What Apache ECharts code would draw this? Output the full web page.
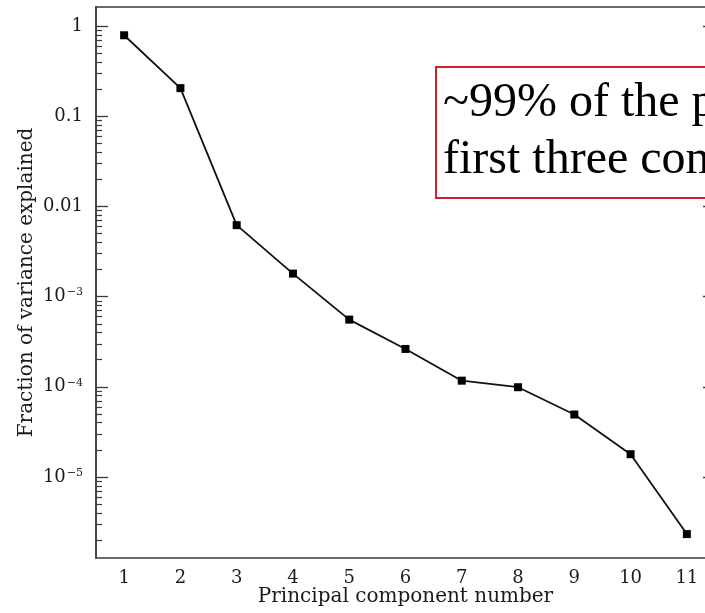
<!DOCTYPE html>
<html>
<head>
<meta charset="utf-8">
<script src="https://cdn.jsdelivr.net/npm/echarts@6/dist/echarts.min.js"></script>
<style>html,body{margin:0;padding:0;background:#fff}#c{width:705px;height:613px}</style>
</head>
<body>
<div id="c"></div>
<script>
// ---- data ----
const components = ['1','2','3','4','5','6','7','8','9','10','11'];
const fractionExplained = [0.79, 0.205, 0.0062, 0.0018, 0.000556, 0.000263, 0.000117, 0.000099, 0.0000493, 0.0000179, 0.00000233];
const yTickValues = [1, 0.1, 0.01, 1e-3, 1e-4, 1e-5];
const yTickLabels = ['1', '0.1', '0.01', '10^−3', '10^−4', '10^−5'];
const yRange = [1.265e-6, 1.626];
const xTitle = 'Principal component number';
const yTitle = 'Fraction of variance explained';
const noteLines = ['~99% of the power is in the', 'first three components'];

// ---- build ----
const lg = v => Math.log10(v);
const majorLog = yTickValues.map(lg);
const minorLog = [];
for (let e = -7; e <= 0; e++) {
  for (let k = 2; k <= 9; k++) {
    const v = lg(k * Math.pow(10, e));
    if (v > lg(yRange[0]) && v < lg(yRange[1])) minorLog.push(v);
  }
}
function labelFor(value) {
  for (let i = 0; i < majorLog.length; i++) {
    if (Math.abs(majorLog[i] - value) < 1e-6) {
      const parts = yTickLabels[i].split('^');
      return parts.length > 1 ? parts[0] + '{sup|' + parts[1] + '}' : parts[0];
    }
  }
  return '';
}
const serif = 'DejaVu Serif';
const axisCol = '#3a3a3a';
const txtCol = '#1a1a1a';
const baseY = {
  type: 'value', min: lg(yRange[0]), max: lg(yRange[1]),
  splitLine: {show: false}, axisLabel: {show: false},
  axisLine: {show: true, onZero: false, lineStyle: {color: axisCol, width: 1.5}}
};

const chart = echarts.init(document.getElementById('c'), null, {renderer: 'canvas'});
chart.setOption({
  animation: false,
  backgroundColor: '#fff',
  grid: {left: 96, width: 619, top: 7, bottom: 55, containLabel: false, outerBoundsMode: 'none'},
  xAxis: [
    {
      type: 'category', data: components, boundaryGap: true, position: 'bottom',
      axisLine: {onZero: false, lineStyle: {color: axisCol, width: 1.5}},
      axisTick: {alignWithLabel: true, inside: true, length: 12, lineStyle: {color: axisCol, width: 1.3}},
      axisLabel: {fontFamily: serif, fontSize: 18, color: txtCol, margin: 11},
      name: xTitle, nameLocation: 'middle', nameGap: 29, nameMoveOverlap: false,
      nameTextStyle: {fontFamily: serif, fontSize: 20, color: txtCol},
      splitLine: {show: false}
    },
    {
      type: 'category', data: components, boundaryGap: true, position: 'top',
      axisLine: {onZero: false, lineStyle: {color: axisCol, width: 1.5}},
      axisTick: {alignWithLabel: true, inside: true, length: 12, lineStyle: {color: axisCol, width: 1.3}},
      axisLabel: {show: false}, splitLine: {show: false}
    }
  ],
  yAxis: [
    Object.assign({}, baseY, {
      position: 'left',
      axisTick: {show: true, inside: true, length: 12, customValues: majorLog, lineStyle: {color: axisCol, width: 1.3}},
      axisLabel: {
        show: true, customValues: majorLog, margin: 13,
        formatter: labelFor,
        fontFamily: serif, fontSize: 18, color: txtCol,
        rich: {sup: {fontFamily: serif, fontSize: 11, color: txtCol, verticalAlign: 'top', padding: [0, 0, 8, 1]}}
      },
      name: yTitle, nameLocation: 'middle', nameGap: 59, nameMoveOverlap: false,
      nameTextStyle: {fontFamily: serif, fontSize: 20, color: txtCol}
    }),
    Object.assign({}, baseY, {
      position: 'left',
      axisTick: {show: true, inside: true, length: 6, customValues: minorLog, lineStyle: {color: axisCol, width: 1.2}}
    }),
    Object.assign({}, baseY, {
      position: 'right',
      axisTick: {show: true, inside: true, length: 12, customValues: majorLog, lineStyle: {color: axisCol, width: 1.3}}
    }),
    Object.assign({}, baseY, {
      position: 'right',
      axisTick: {show: true, inside: true, length: 6, customValues: minorLog, lineStyle: {color: axisCol, width: 1.2}}
    })
  ],
  series: [{
    type: 'line', xAxisIndex: 0, yAxisIndex: 0,
    data: fractionExplained.map(lg),
    symbol: 'rect', symbolSize: 8,
    itemStyle: {color: '#000'},
    lineStyle: {color: '#111', width: 1.8},
    z: 5
  }],
  graphic: [
    {
      type: 'rect', left: 435, top: 66, z: 10,
      shape: {width: 320, height: 131},
      style: {fill: '#fff', stroke: '#d0212b', lineWidth: 2}
    },
    {
      type: 'text', left: 443, top: 75, z: 11,
      style: {text: noteLines.join('\n'), font: '48px "Liberation Serif"', fill: '#000', lineHeight: 57}
    }
  ]
});
</script>
</body>
</html>
